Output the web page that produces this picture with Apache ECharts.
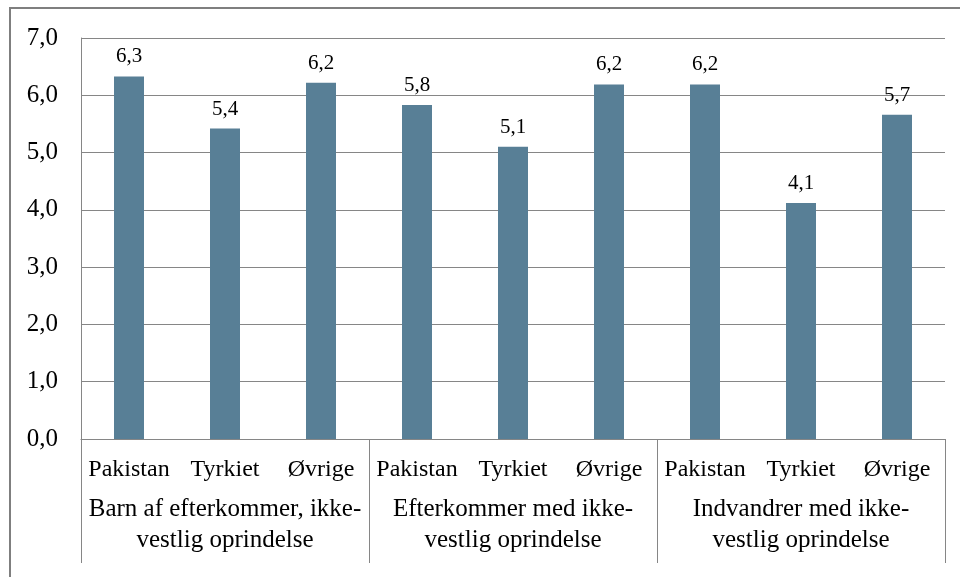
<!DOCTYPE html>
<html>
<head>
<meta charset="utf-8">
<script src="https://cdn.jsdelivr.net/npm/echarts@6/dist/echarts.min.js"></script>
<style>
  html, body { margin: 0; padding: 0; background: #fff; }
  #main { width: 960px; height: 577px; }
</style>
</head>
<body>
<div id="main"></div>
<script>
// data
var items = ['Pakistan', 'Tyrkiet', 'Øvrige', 'Pakistan', 'Tyrkiet', 'Øvrige', 'Pakistan', 'Tyrkiet', 'Øvrige'];
var groups = ['Barn af efterkommer, ikke-\nvestlig oprindelse', 'Efterkommer med ikke-\nvestlig oprindelse', 'Indvandrer med ikke-\nvestlig oprindelse'];
var values = [6.33, 5.42, 6.22, 5.83, 5.10, 6.19, 6.19, 4.12, 5.66];

var serif = 'Liberation Serif';
var gray = '#868686';

function comma(v) {
    return v.toFixed(1).replace('.', ',');
}

var myChart = echarts.init(document.getElementById('main'));

var option = {
    animation: false,
    textStyle: { fontFamily: serif },
    grid: { left: 81, right: 15, top: 38, bottom: 138 },
    // ydre ramme
    graphic: [{
        type: 'rect',
        shape: { x: 10, y: 8, width: 1000, height: 1000 },
        style: { fill: 'none', stroke: '#7f7f7f', lineWidth: 2 },
        z: 100
    }],
    xAxis: [
        {
            type: 'category',
            data: items,
            position: 'bottom',
            axisLine: { show: true, lineStyle: { color: gray, width: 1 } },
            axisTick: { show: false },
            axisLabel: {
                interval: 0, margin: 19,
                fontFamily: serif, fontSize: 24, color: '#000'
            }
        },
        {
            type: 'category',
            data: groups,
            position: 'bottom',
            axisLine: { show: false },
            axisTick: { show: true, length: 124, lineStyle: { color: gray, width: 1 } },
            axisLabel: {
                interval: 0, margin: 55,
                fontFamily: serif, fontSize: 25, lineHeight: 31, color: '#000'
            }
        }
    ],
    yAxis: {
        type: 'value',
        min: 0, max: 7, interval: 1,
        axisLine: { show: true, lineStyle: { color: gray, width: 1 } },
        axisTick: { show: false },
        splitLine: { lineStyle: { color: gray, width: 1 } },
        axisLabel: {
            margin: 23,
            fontFamily: serif, fontSize: 25, color: '#000',
            formatter: function (v) { return comma(v); }
        }
    },
    series: [{
        type: 'bar',
        xAxisIndex: 0,
        data: values,
        barWidth: 30,
        itemStyle: { color: '#587f96' },
        label: {
            show: true, position: 'top', distance: 9,
            fontFamily: serif, fontSize: 21, color: '#000',
            formatter: function (p) { return comma(p.value); }
        }
    }]
};

myChart.setOption(option);
</script>
</body>
</html>
